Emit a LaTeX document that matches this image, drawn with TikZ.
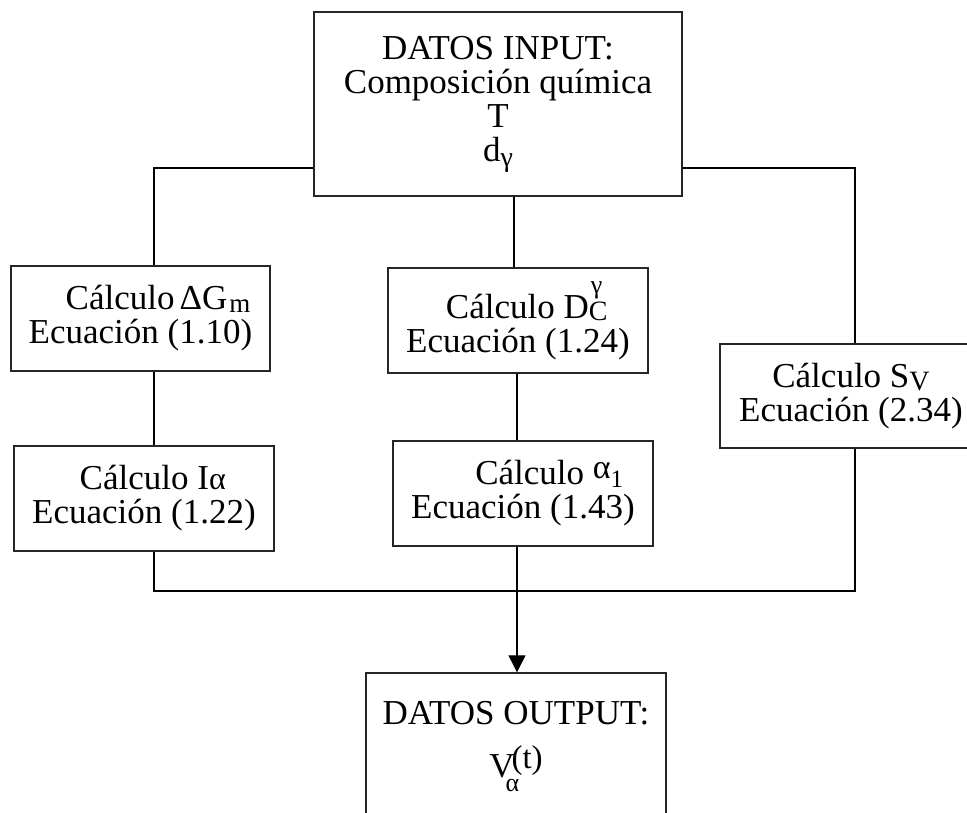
\documentclass[tikz,border=0pt]{standalone}
\usepackage{fontspec}
\setmainfont{Liberation Serif}
\usetikzlibrary{arrows.meta}

% small lowered / raised pieces of text
\newcommand\lowtxt[3]{\raisebox{-#1pt}{\fontsize{#2}{#2}\selectfont #3}}
\newcommand\hightxt[3]{\raisebox{#1pt}{\fontsize{#2}{#2}\selectfont #3}}

\tikzset{
  box/.style={draw=black!85, line width=1.4pt, inner sep=0pt, align=center,
    font=\fontsize{35}{34}\selectfont},
  wire/.style={draw=black, line width=1.2pt},
}

\begin{document}
\begin{tikzpicture}[x=1pt,y=-1pt]
\useasboundingbox (0,0) rectangle (967,812);
\clip (0,0) rectangle (967,812);

% boxes
\node[box, minimum width=368pt, minimum height=184pt] (in) at (498,104)
  {DATOS INPUT:\\ Composición química\\ T\\ d\lowtxt{5}{28}{γ}};
\node[box, minimum width=259pt, minimum height=105pt] (dg) at (140.5,318.5)
  {\quad Cálculo\kern5pt ΔG\kern2pt\lowtxt{3}{27}{m}\\ Ecuación (1.10)};
\node[box, minimum width=260pt, minimum height=105pt] (dc) at (518,320.5)
  {\ \ Cálculo D\rlap{\hightxt{25}{26}{\kern2pt γ}}\lowtxt{2}{28}{C}\\ Ecuación (1.24)};
\node[box, minimum width=262pt, minimum height=104pt] (sv) at (851,396)
  {Cálculo S\lowtxt{3}{28}{V}\\ Ecuación (2.34)};
\node[box, minimum width=260pt, minimum height=105pt] (ia) at (144,498.5)
  {\ \ Cálculo I{\fontsize{32}{32}\selectfont α}\\ Ecuación (1.22)};
\node[box, minimum width=260pt, minimum height=105pt] (a1) at (523,493.5)
  {\quad\ \ Cálculo \hightxt{6}{34}{α}\lowtxt{3}{25}{1}\\ Ecuación (1.43)};
\node[box, minimum width=300pt, minimum height=147pt] (out) at (516,746.5)
  {DATOS OUTPUT:\\[19pt] V\kern-9pt\rlap{\lowtxt{14}{26}{α}}\kern6pt\hightxt{9}{33}{(t)}};

% junction points of the connectors
\coordinate (jl) at (154,168);
\coordinate (jr) at (855,168);
\coordinate (cx) at (514,0);
\coordinate (jb) at (517,591);

% input to the three branches
\draw[wire] (in.west |- jl) -- (jl) -- (dg.north -| jl);
\draw[wire] (in.east |- jr) -- (jr) -- (sv.north -| jr);
\draw[wire] (in.south -| cx) -- (dc.north -| cx);

% inside the branches
\draw[wire] (dg.south -| jl) -- (ia.north -| jl);
\draw[wire] (dc.south -| jb) -- (a1.north -| jb);

% collecting bus and the arrow to the output
\draw[wire] (ia.south -| jl) -- (jl |- jb) -- (jr |- jb) -- (sv.south -| jr);
\draw[wire, -{Triangle[width=17pt,length=17pt]}] (a1.south -| jb) -- (out.north -| jb);
\end{tikzpicture}
\end{document}
